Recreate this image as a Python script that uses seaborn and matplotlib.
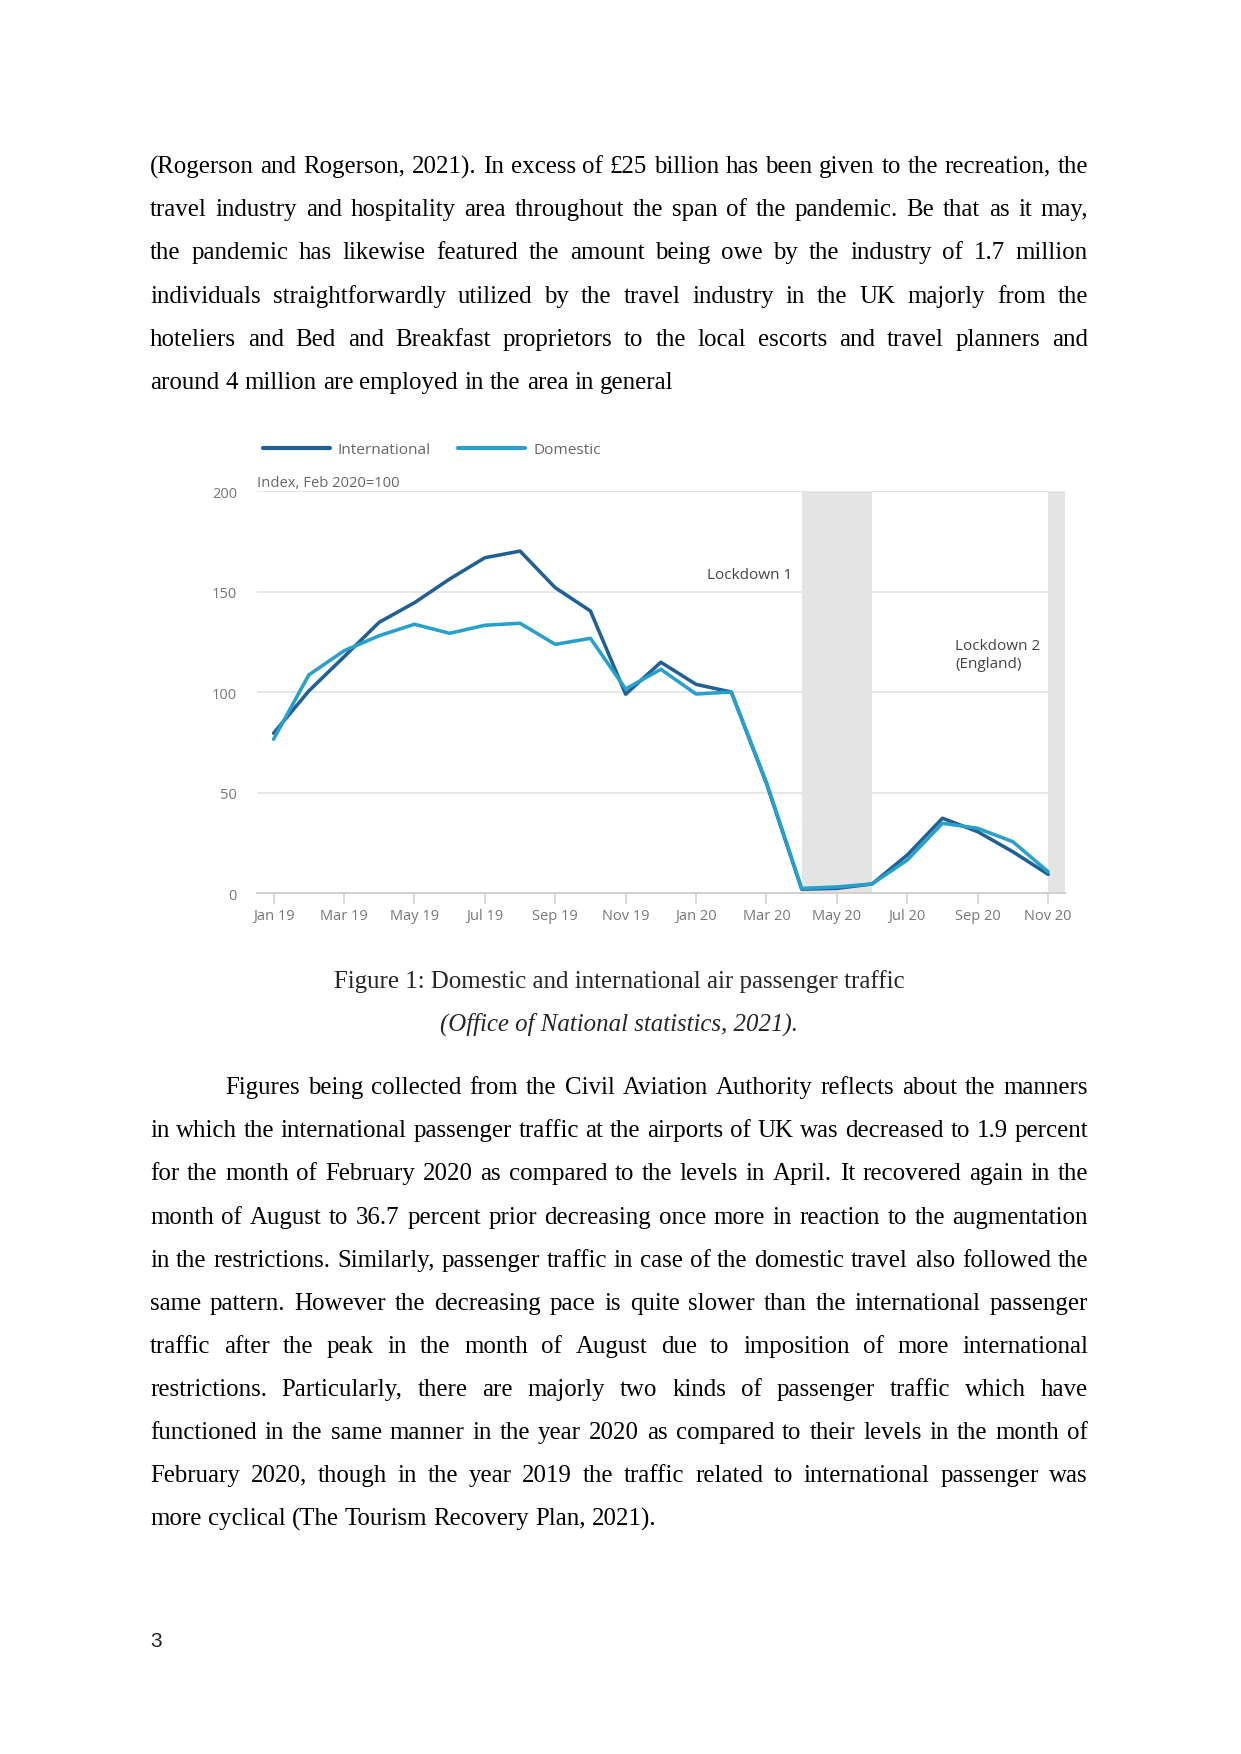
import math
import matplotlib
matplotlib.use("Agg")
import matplotlib.pyplot as plt
from matplotlib.font_manager import FontProperties
import seaborn as sns
import pandas as pd

# ---------------- data ----------------
months = ["Jan 19", "Feb 19", "Mar 19", "Apr 19", "May 19", "Jun 19", "Jul 19", "Aug 19",
          "Sep 19", "Oct 19", "Nov 19", "Dec 19", "Jan 20", "Feb 20", "Mar 20", "Apr 20",
          "May 20", "Jun 20", "Jul 20", "Aug 20", "Sep 20", "Oct 20", "Nov 20"]
international = [79.5, 100.5, 117.5, 134.7, 144.4, 156.2, 166.8, 170.1, 151.9, 140.3, 98.9,
                 114.8, 103.8, 100.0, 54.5, 1.9, 2.3, 4.5, 18.9, 37.2, 30.5, 20.5, 9.3]
domestic = [76.5, 108.5, 120.5, 128.0, 133.7, 129.2, 133.2, 134.2, 123.7, 126.7, 101.5,
            111.3, 99.0, 100.0, 55.0, 2.3, 3.0, 4.5, 16.4, 34.7, 32.2, 25.5, 10.6]
series_names = ["International", "Domestic"]
tick_labels = months[::2]
lockdowns = [("Apr 20", "Jun 20", "Lockdown 1"), ("Nov 20", None, "Lockdown 2\n(England)")]
y_ticks = [0, 50, 100, 150, 200]
y_title = "Index, Feb 2020=100"

para1 = [
    "(Rogerson and Rogerson, 2021). In excess of £25 billion has been given to the recreation, the",
    "travel industry and hospitality area throughout the span of the pandemic. Be that as it may,",
    "the pandemic has likewise featured the amount being owe by the industry of 1.7 million",
    "individuals straightforwardly utilized by the travel industry in the UK majorly from the",
    "hoteliers and Bed and Breakfast proprietors to the local escorts and travel planners and",
    "around 4 million are employed in the area in general",
]
para2 = [
    "Figures being collected from the Civil Aviation Authority reflects about the manners",
    "in which the international passenger traffic at the airports of UK was decreased to 1.9 percent",
    "for the month of February 2020 as compared to the levels in April. It recovered again in the",
    "month of August to 36.7 percent prior decreasing once more in reaction to the augmentation",
    "in the restrictions. Similarly, passenger traffic in case of the domestic travel also followed the",
    "same pattern. However the decreasing pace is quite slower than the international passenger",
    "traffic after the peak in the month of August due to imposition of more international",
    "restrictions. Particularly, there are majorly two kinds of passenger traffic which have",
    "functioned in the same manner in the year 2020 as compared to their levels in the month of",
    "February 2020, though in the year 2019 the traffic related to international passenger was",
    "more cyclical (The Tourism Recovery Plan, 2021).",
]
caption1 = "Figure 1: Domestic and international air passenger traffic"
caption2 = "(Office of National statistics, 2021)."
page_no = "3"

# ---------------- page ----------------
W, H = 1241, 1754
DPI = 150
sns.set_theme(style="white")
plt.rcParams["font.family"] = ["Open Sans", "DejaVu Sans"]

fig = plt.figure(figsize=(W / DPI, H / DPI), dpi=DPI, facecolor="white")
renderer = fig.canvas.get_renderer()

def fx(x):
    return x / W

def fy(y):
    return 1 - y / H

SERIF = "Liberation Serif"

def metrics(s, size, style="normal"):
    prop = FontProperties(family=SERIF, size=size, style=style)
    return renderer.get_text_width_height_descent(s, prop, ismath=False)

def measure(s, size, style="normal"):
    return metrics(s, size, style)[0]

# font size derived from caption width in the reference
BODY = 12 * 571.0 / measure(caption1, 12)

def put_word(word, x, base, size):
    # place word so that its glyph baseline lands exactly on pixel row `base`
    w, h, d = metrics(word, size)
    up = h - d
    yc = base + math.floor(up + d + 1e-9) - math.floor(up + 1e-9) - d
    fig.text(fx(x), fy(yc), word, fontsize=size, family=SERIF, color="black",
             ha="left", va="baseline")
    return w

def draw_line(line, x0, x1, base, justify):
    words = line.split(" ")
    size = BODY
    target = x1 - x0
    base = round(base)
    space = measure("a a", size) - measure("aa", size)
    if justify and len(words) > 1:
        n = len(words) - 1
        natural = measure(line, size)
        if natural > target:
            size = size * target / natural * 0.99
        widths = [measure(w, size) for w in words]
        gap = (target - sum(widths)) / n
    else:
        widths = [measure(w, size) for w in words]
        natural = measure(line, size)
        gap = (natural - sum(widths)) / max(len(words) - 1, 1)
    x = x0
    for word, wd in zip(words, widths):
        put_word(word, x, base, size)
        x += wd + gap

LEFT, RIGHT = 150, 1088
LINE = 43.07
for i, line in enumerate(para1):
    draw_line(line, LEFT, RIGHT, 173.3 + i * LINE, i < len(para1) - 1)
for i, line in enumerate(para2):
    x0 = 225.5 if i == 0 else LEFT
    draw_line(line, x0, RIGHT, 1094.3 + i * LINE, i < len(para2) - 1)

fig.text(fx(619), fy(988), caption1, fontsize=BODY, family=SERIF, ha="center", va="baseline")
fig.text(fx(619), fy(1031), caption2, fontsize=BODY, family=SERIF, style="italic",
         ha="center", va="baseline")
fig.text(fx(150), fy(1647), page_no, fontsize=10, family="Liberation Sans", ha="left",
         va="baseline", color="#222222")

# ---------------- chart ----------------
df = pd.DataFrame({
    "month": list(range(len(months))) * 2,
    "value": international + domestic,
    "series": [series_names[0]] * len(months) + [series_names[1]] * len(months),
})
palette = {"International": "#206095", "Domestic": "#27a0cc"}

ax = fig.add_axes([fx(256.7), fy(893), fx(1065) - fx(256.7), fy(491) - fy(893)])
ax.set_facecolor("white")
sns.lineplot(data=df, x="month", y="value", hue="series", hue_order=series_names,
             palette=palette, linewidth=1.7, ax=ax, zorder=3, legend=True)

ax.set_xlim(-0.48, len(months) - 1 + 0.48)
ax.set_ylim(0, 200)
ax.set_xticks(range(0, len(months), 2))
ax.set_xticklabels(tick_labels)
ax.set_yticks(y_ticks)
ax.set_xlabel("")
ax.set_ylabel("")
ax.grid(axis="y", color="#e6e6e6", linewidth=0.9, zorder=0)
ax.set_axisbelow(True)
for s in ["top", "right", "left"]:
    ax.spines[s].set_visible(False)
ax.spines["bottom"].set_color("#cfcfcf")
ax.spines["bottom"].set_linewidth(0.9)
ax.tick_params(axis="x", length=5.3, width=0.8, color="#cfcfcf", pad=2.5,
               labelsize=7, labelcolor="#777777", bottom=True)
ax.tick_params(axis="y", length=0, pad=9.5, labelsize=7, labelcolor="#777777", left=True)
for t in ax.yaxis.get_major_ticks():
    t.label1.set_transform(t.label1.get_transform() +
                           matplotlib.transforms.ScaledTranslation(0, -0.7 / 72, fig.dpi_scale_trans))

# lockdown shading
for start, end, label in lockdowns:
    s = months.index(start)
    e = months.index(end) if end else ax.get_xlim()[1]
    ax.axvspan(s, e, color="#e4e4e4", zorder=1, linewidth=0)

ax.text(14.73, 158.0, lockdowns[0][2], ha="right", va="center", fontsize=7.3, color="#444444")
ax.text(19.36, 118.2, lockdowns[1][2], ha="left", va="center", fontsize=7.3, color="#444444",
        linespacing=1.3)
ax.text(-0.48, 203.6, y_title, ha="left", va="center", fontsize=7.1, color="#666666")

handles, labels = ax.get_legend_handles_labels()
ax.legend(handles, labels, loc="center left", bbox_to_anchor=(fx(262.7), fy(450.3)),
          bbox_transform=fig.transFigure, ncol=2, frameon=False, handlelength=4.35,
          handletextpad=0.5, columnspacing=1.8, borderpad=0, borderaxespad=0,
          fontsize=7.4, labelcolor="#666666")
for ln in ax.get_legend().get_lines():
    ln.set_linewidth(2.0)

fig.savefig("out.png", dpi=DPI, facecolor="white")
